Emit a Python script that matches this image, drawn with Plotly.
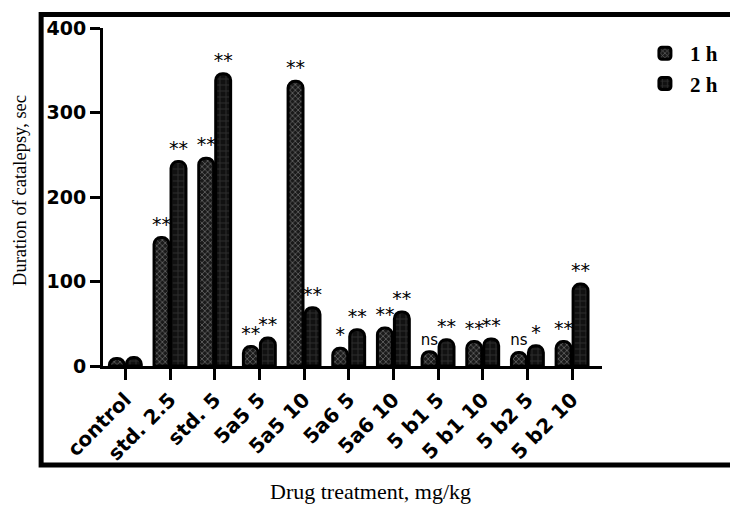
import plotly.graph_objects as go

categories = ["control", "std. 2.5", "std. 5", "5a5 5", "5a5 10", "5a6 5",
              "5a6 10", "5 b1 5", "5 b1 10", "5 b2 5", "5 b2 10"]
values_1h = [9, 152, 246, 23, 337, 21, 45, 17, 29, 16, 29]
values_2h = [10, 242, 346, 33, 69, 43, 64, 31, 32, 24, 97]
sig_1h = ["", "**", "**", "**", "**", "*", "**", "ns", "**", "ns", "**"]
sig_2h = ["", "**", "**", "**", "**", "**", "**", "**", "**", "*", "**"]
yticks = [0, 100, 200, 300, 400]


def sig_sizes(labels):
    return [15 if s == "ns" else 19 for s in labels]


fig = go.Figure()
fig.add_trace(go.Bar(
    name="1 h", x=categories, y=values_1h,
    text=sig_1h, textposition="outside", constraintext="none", cliponaxis=False,
    textfont=dict(family="DejaVu Sans", size=sig_sizes(sig_1h), color="black"),
    marker=dict(color="#1a1a1a", line=dict(color="black", width=3), cornerradius="45%",
                pattern=dict(shape="x", fgcolor="#a0a0a0", bgcolor="#1a1a1a", size=4, solidity=0.4)),
))
fig.add_trace(go.Bar(
    name="2 h", x=categories, y=values_2h,
    text=sig_2h, textposition="outside", constraintext="none", cliponaxis=False,
    textfont=dict(family="DejaVu Sans", size=sig_sizes(sig_2h), color="black"),
    marker=dict(color="#111111", line=dict(color="black", width=3), cornerradius="45%",
                pattern=dict(shape="+", fgcolor="#4a4a4a", bgcolor="#111111", size=6, solidity=0.3)),
))

fig.update_layout(
    width=730, height=497,
    margin=dict(l=95, r=136, t=20, b=139),
    paper_bgcolor="white", plot_bgcolor="white",
    barmode="group", bargap=0.24, bargroupgap=0.12,
    font=dict(family="Liberation Sans, Arial", color="black"),
    legend=dict(x=1.076, y=0.985, xanchor="left", yanchor="top",
                font=dict(family="Liberation Serif, Times New Roman", size=21, color="black", weight="bold"),
                bgcolor="rgba(0,0,0,0)", itemwidth=40, tracegroupgap=0),
    xaxis=dict(
        range=[-0.5, 10.67], showline=True, linecolor="black", linewidth=3,
        ticks="outside", ticklen=11, tickwidth=3, tickcolor="black",
        tickangle=-45, showgrid=False, zeroline=False, automargin=False,
        tickfont=dict(family="DejaVu Sans", size=20, color="black", weight="bold"),
    ),
    yaxis=dict(
        range=[0, 400], showline=True, linecolor="black", linewidth=3,
        ticks="outside", ticklen=10, tickwidth=3, tickcolor="black",
        tickvals=yticks, showgrid=False, zeroline=False, automargin=False,
        tickfont=dict(family="DejaVu Sans", size=19, color="black", weight="bold"),
    ),
    shapes=[dict(type="rect", xref="paper", yref="paper",
                 x0=-0.124, x1=1.29, y0=-0.293, y1=1.04,
                 line=dict(color="black", width=5), fillcolor="rgba(0,0,0,0)")],
    annotations=[
        dict(text="Duration of catalepsy, sec", xref="paper", yref="paper",
             x=-0.165, y=0.52, xanchor="center", yanchor="middle",
             textangle=-90, showarrow=False, borderpad=0,
             font=dict(family="Liberation Serif, Times New Roman", size=18.5, color="black")),
        dict(text="Drug treatment, mg/kg", xref="paper", yref="paper",
             x=0.537, y=-0.37, xanchor="center", yanchor="middle", showarrow=False,
             font=dict(family="Liberation Serif, Times New Roman", size=22, color="black")),
    ],
)

fig.write_html("out.html")
